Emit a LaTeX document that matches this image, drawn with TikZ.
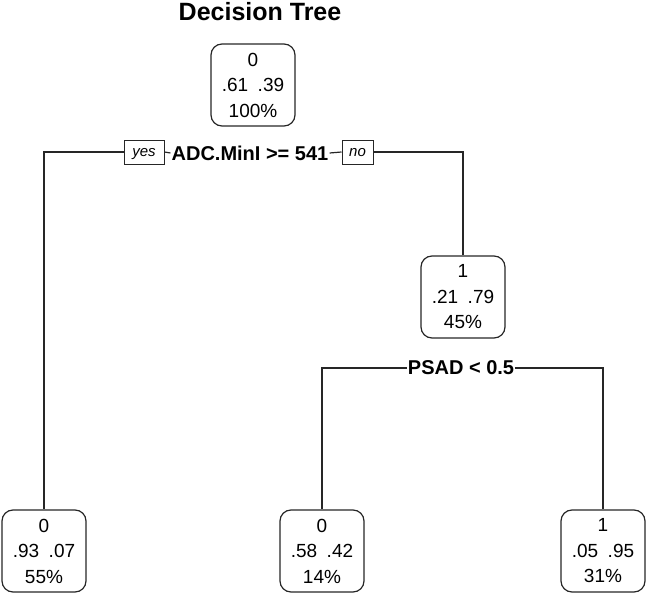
\documentclass[tikz,border=0pt]{standalone}
\usepackage{tikz}
\usepackage{fontspec}
\setmainfont{Liberation Sans}
\usetikzlibrary{calc}
\colorlet{lcol}{black!85}
\begin{document}
\begin{tikzpicture}[x=1pt,y=-1pt]
\tikzstyle{nstyle}=[draw=lcol, line width=1.2pt, rounded corners=11pt, minimum width=84pt, minimum height=82pt, inner sep=0pt, align=center, font=\fontsize{19}{25.5}\selectfont]
\tikzstyle{sstyle}=[inner sep=1pt, fill=white, font=\fontsize{20}{22}\selectfont\bfseries]
\tikzstyle{ystyle}=[draw=lcol, line width=1pt, fill=white, minimum height=24pt, inner sep=1pt, text height=1.6ex, text depth=0ex, font=\fontsize{15}{15}\selectfont\itshape]
\tikzstyle{basic}=[line width=1.2pt, lcol]

\useasboundingbox (0,0) rectangle (646,594);

\node[font=\fontsize{25}{26}\selectfont\bfseries] (title) at (260,12) {Decision Tree};

% root and first split
\node[nstyle] (root) at (253,85) {0\\.61\hspace{0.5em}.39\\100\%};
\node[sstyle] (split1) at (250,153) {ADC.MinI >= 541};
\node[ystyle, minimum width=40pt] (yes) at (144,152) {yes};
\node[ystyle, minimum width=31pt] (no) at (357.5,152) {no};

% inner node and second split
\node[nstyle] (n2) at (463,297) {1\\.21\hspace{0.5em}.79\\45\%};
\node[sstyle] (split2) at (461,368) {PSAD < 0.5};

% leaves
\node[nstyle] (l1) at (44,551) {0\\.93\hspace{0.5em}.07\\55\%};
\node[nstyle] (l2) at (322,551) {0\\.58\hspace{0.5em}.42\\14\%};
\node[nstyle] (l3) at (603,551) {1\\.05\hspace{0.5em}.95\\31\%};

% connectors
\draw[basic] (yes.east) -- (split1.west);
\draw[basic] (split1.east) -- (no.west);
\draw[basic] (yes.west) -| (l1.north);
\draw[basic] (no.east) -| (n2.north);
\draw[basic] (split2.west) -| (l2.north);
\draw[basic] (split2.east) -| (l3.north);
\end{tikzpicture}
\end{document}
